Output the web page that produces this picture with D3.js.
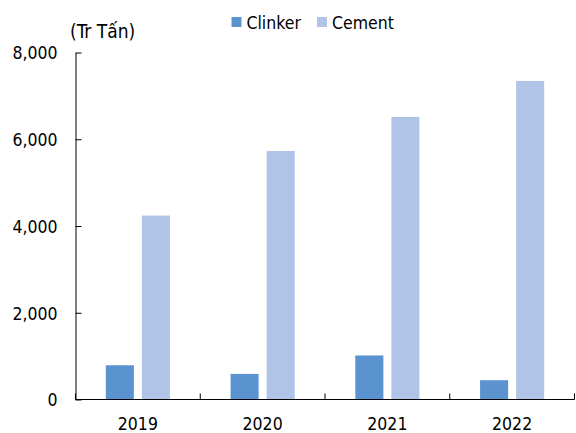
<!DOCTYPE html>
<html>
<head>
<meta charset="utf-8">
<script src="https://cdn.jsdelivr.net/npm/d3@7"></script>
<style>
  html, body { margin: 0; padding: 0; background: #fff; }
  svg { display: block; }
  text { font-family: "DejaVu Sans Condensed", "DejaVu Sans", sans-serif; fill: #000; }
</style>
</head>
<body>
<svg id="chart" width="576" height="433"></svg>
<script>
// Production volume by year (Tr Tấn)
const years = ["2019", "2020", "2021", "2022"];
const seriesNames = ["Clinker", "Cement"];
const clinker = [790, 590, 1015, 445];
const cement = [4240, 5730, 6515, 7345];
const yTicks = [0, 2000, 4000, 6000, 8000];
const unitLabel = "(Tr Tấn)";

const colors = { Clinker: "#5B93D0", Cement: "#AFC4E6" };

const svg = d3.select("#chart");
const plotLeft = 75.5, plotRight = 574.5, plotTop = 52.5, plotBottom = 399.5;

const x0 = d3.scaleBand().domain(years).range([plotLeft, plotRight]).padding(0);
const x1 = d3.scaleBand().domain(seriesNames)
  .range([x0.bandwidth() * 0.243, x0.bandwidth() * 0.757])
  .paddingInner(0.222).paddingOuter(0);
const y = d3.scaleLinear().domain([0, 8000]).range([plotBottom, plotTop]);

const rows = years.map((yr, i) => ({ year: yr, Clinker: clinker[i], Cement: cement[i] }));

// bars
const groups = svg.append("g").selectAll("g").data(rows).join("g")
  .attr("transform", d => `translate(${x0(d.year)},0)`);
groups.selectAll("rect")
  .data(d => seriesNames.map(s => ({ key: s, value: d[s] })))
  .join("rect")
  .attr("x", d => x1(d.key))
  .attr("y", d => y(d.value))
  .attr("width", x1.bandwidth())
  .attr("height", d => y(0) - y(d.value))
  .attr("fill", d => colors[d.key]);

// y axis: ticks pointing inward
const yAxis = svg.append("g").attr("transform", `translate(${plotLeft},0)`)
  .call(d3.axisLeft(y).tickValues(yTicks).tickSizeInner(-6).tickSizeOuter(0)
    .tickPadding(18).tickFormat(d3.format(",")));
yAxis.select(".domain").attr("stroke", "#000").attr("stroke-width", 1);
yAxis.selectAll(".tick line").attr("stroke", "#000");
yAxis.selectAll(".tick text").style("font-size", "17.5px").attr("dy", "0.36em");

// x axis: baseline with inward ticks at category boundaries
const xAxis = svg.append("g").attr("transform", `translate(0,${plotBottom})`);
xAxis.append("line").attr("x1", plotLeft).attr("x2", plotRight).attr("stroke", "#000");
const bounds = years.map(yr => x0(yr) + x0.bandwidth()).concat([plotLeft]);
xAxis.selectAll("line.tk").data(bounds).join("line").attr("class", "tk")
  .attr("x1", d => d).attr("x2", d => d).attr("y1", 0).attr("y2", -6).attr("stroke", "#000");
xAxis.selectAll("text").data(years).join("text")
  .attr("x", d => x0(d) + x0.bandwidth() / 2)
  .attr("y", 30)
  .attr("text-anchor", "middle")
  .style("font-size", "17.5px")
  .text(d => d);

// unit label
svg.append("text").attr("x", 70).attr("y", 38).style("font-size", "19px").text(unitLabel);

// legend
const legend = svg.append("g");
const legendX = [231.5, 317];
seriesNames.forEach((s, i) => {
  const g = legend.append("g").attr("transform", `translate(${legendX[i]},17)`);
  g.append("rect").attr("width", 10).attr("height", 10).attr("fill", colors[s]);
  g.append("text").attr("x", 15).attr("y", 11.5).style("font-size", "17.5px").text(s);
});
</script>
</body>
</html>
